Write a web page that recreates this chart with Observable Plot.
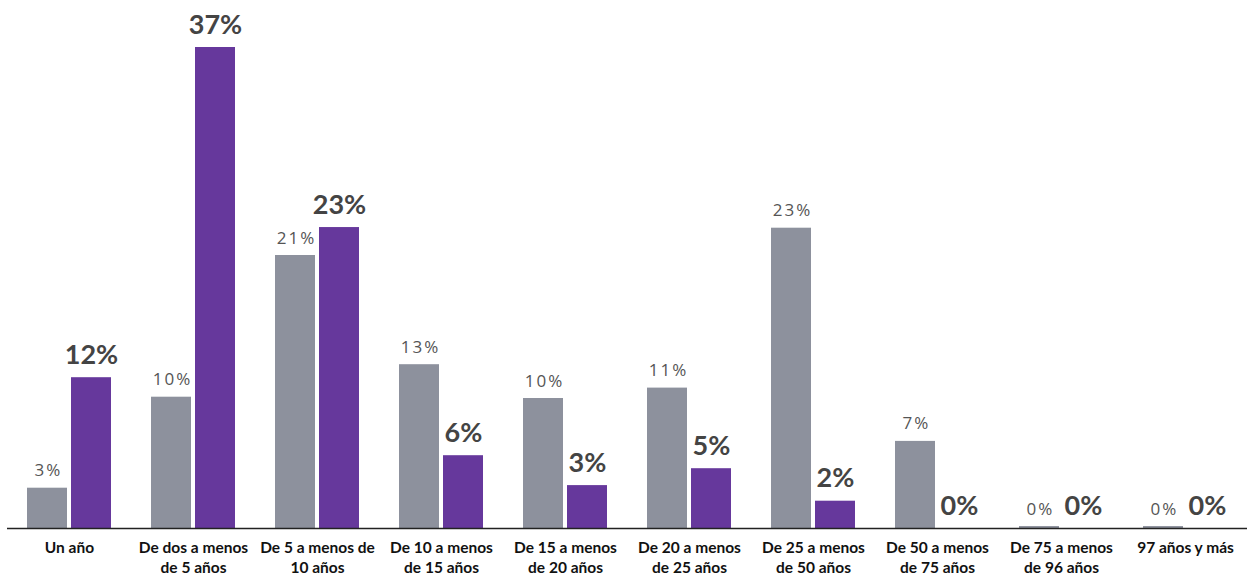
<!DOCTYPE html>
<html><head><meta charset="utf-8">
<script src="https://cdn.jsdelivr.net/npm/d3@7"></script>
<script src="https://cdn.jsdelivr.net/npm/@observablehq/plot@0.6"></script>
<style>body{margin:0;background:#fff;font-family:Lato,sans-serif}</style>
</head><body><div id="chart"></div>
<script>
const categories = ["Un año","De dos a menos\nde 5 años","De 5 a menos de\n10 años","De 10 a menos\nde 15 años","De 15 a menos\nde 20 años","De 20 a menos\nde 25 años","De 25 a menos\nde 50 años","De 50 a menos\nde 75 años","De 75 a menos\nde 96 años","97 años y más"];
const seriesNames = ["A","B"];
const grayValues = [3.1,10.1,21.0,12.6,10.0,10.8,23.1,6.7,0.15,0.15];
const purpleValues = [11.6,37.0,23.15,5.6,3.3,4.6,2.1,0,0,0];
const colors = ["#8d919d","#66389c"];

const data = [];
categories.forEach((c,i)=>{
  data.push({cat:c, s:"A", v:grayValues[i]});
  data.push({cat:c, s:"B", v:purpleValues[i]});
});
const fmt = d => Math.round(d.v) + "%";

const chart = Plot.plot({
  width:1253, height:575,
  marginLeft:7, marginRight:6, marginTop:47, marginBottom:47,
  style:{fontFamily:"Lato, sans-serif", background:"#fff"},
  fx:{domain:categories, padding:0, label:null},
  x:{domain:seriesNames, paddingInner:0.0909, paddingOuter:0.4545, axis:null},
  y:{domain:[0,37], axis:null},
  color:{domain:seriesNames, range:colors},
  marks:[
    Plot.barY(data,{fx:"cat", x:"s", y:"v", fill:"s"}),
    Plot.text(data.filter(d=>d.s==="A"),{fx:"cat", x:"s", y:"v", text:fmt, lineAnchor:"bottom", dy:-12, dx:1, fontSize:17, fontFamily:"Open Sans", fill:"#555"}),
    Plot.text(data.filter(d=>d.s==="B"),{fx:"cat", x:"s", y:"v", text:fmt, lineAnchor:"bottom", dy:-14, fontSize:27, fontWeight:"bold", fill:"#444"}),
    Plot.ruleY([0],{stroke:"#222", strokeWidth:1.5}),
    Plot.axisFx({anchor:"bottom", tickSize:0, tickPadding:10, fontSize:15.5, fontWeight:"bold", lineHeight:1.3, fill:"#111", label:null})
  ]
});
d3.select(chart).selectAll('g[fill="#555"]').attr("letter-spacing","2px");
document.getElementById("chart").append(chart);
</script></body></html>
